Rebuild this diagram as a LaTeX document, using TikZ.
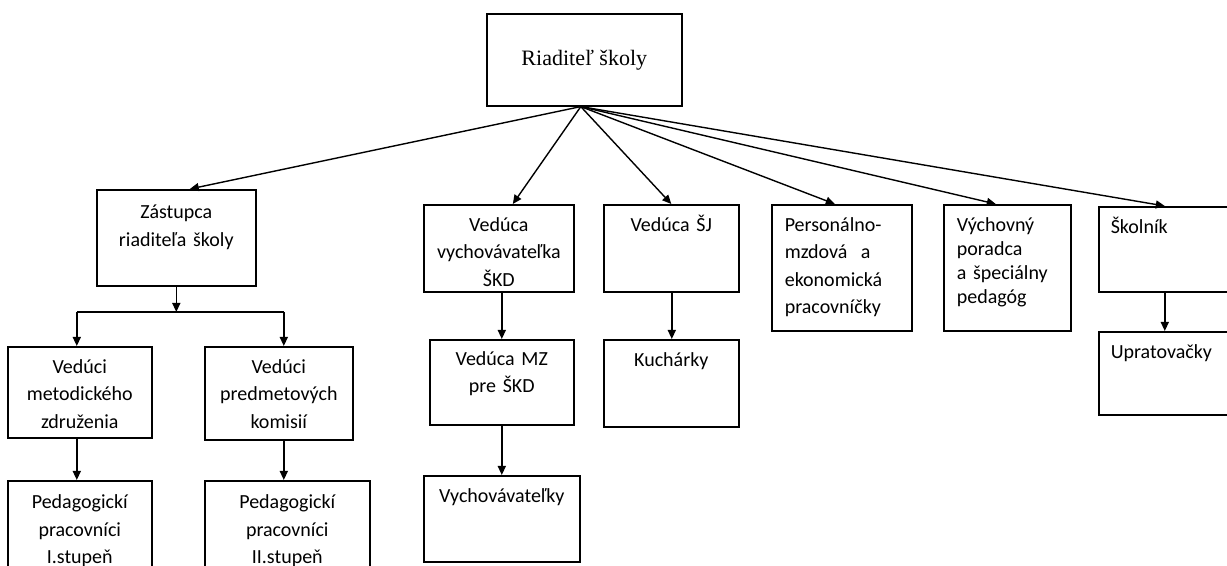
\documentclass[tikz,border=0pt]{standalone}
\usepackage{fontspec}
\usepackage{tikz}
\usetikzlibrary{arrows.meta,calc}
\newfontfamily\cardfont{Carlito}
\newfontfamily\headfont{Liberation Serif}
\tikzstyle{card} = [draw, line width=0.8pt, anchor=north west, inner sep=0pt, align=center, text height=13.25pt,
  font=\cardfont\fontsize{10pt}{13.75pt}\selectfont]
\tikzstyle{head} = [draw, line width=0.8pt, anchor=north west, inner sep=0pt, minimum width=97.5pt, minimum height=46pt,
  font=\headfont\fontsize{11pt}{13pt}\selectfont]
\tikzstyle{arrow} = [line width=0.7pt, -{Triangle[length=4.5pt,width=4pt]}]

\begin{document}
\begin{tikzpicture}[x=0.5pt,y=-0.5pt]
    \useasboundingbox (0,0) rectangle (1227,566);
    \clip (0,0) rectangle (1227,566);
    % top
    \node[head] (dir) at (486,13) {Riaditeľ školy};
    \coordinate (apex) at ([xshift=-1.75pt]dir.south);
    % deputy branch
    \node[card, text width=79.5pt, text height=14.5pt, text depth=33.5pt] (zast) at (96,189) {Zástupca\\riaditeľa školy};
    \node[card, text width=72pt, text depth=32.25pt] (met) at (7,346) {Vedúci\\metodického\\združenia};
    \node[card, text width=74pt, text depth=33.25pt] (pred) at (204,346) {Vedúci\\predmetových\\komisií};
    \node[card, text width=72pt, text height=14pt, text depth=46pt] (ped1) at (7,480) {Pedagogickí\\pracovníci\\I.stupeň};
    \node[card, text width=82.5pt, text height=14pt, text depth=46pt] (ped2) at (204,480) {Pedagogickí\\pracovníci\\II.stupeň};
    % school club
    \node[card, text width=75pt, text depth=30.25pt] (skd) at (423,204) {Vedúca\\vychovávateľka\\ŠKD};
    \node[card, text width=72pt, text height=12.75pt, text depth=29.75pt] (mz) at (429,339) {Vedúca MZ\\pre ŠKD};
    \node[card, text width=78pt, text height=13.5pt, text depth=29.5pt] (vych) at (423,475) {Vychovávateľky};
    % canteen
    \node[card, text width=67.5pt, text depth=30.25pt] (sj) at (603,204) {Vedúca ŠJ};
    \node[card, text width=67.5pt, text height=13.5pt, text depth=30pt] (kuch) at (603,339) {Kuchárky};
    % staff on the right
    \node[card, align=left, inner xsep=6.5pt, text width=57pt, text depth=49.75pt] (pers) at (771,204)
        {Personálno-\\mzdová\ \ a\\ekonomická\\pracovníčky};
    \node[card, align=left, inner xsep=6.5pt, text width=50.5pt, text depth=49.75pt,
        font=\cardfont\fontsize{10pt}{12pt}\selectfont] (vp) at (943,204)
        {Výchovný\\poradca\\a špeciálny\\pedagóg};
    \node[card, align=left, inner xsep=6pt, text width=54pt, text height=13.5pt, text depth=29pt] (skol) at (1098,206) {Školník};
    \node[card, align=left, inner xsep=6pt, text width=54pt, text height=13.5pt, text depth=28pt] (uprat) at (1098,331) {Upratovačky};

    % from the head
    \foreach \n/\s in {zast/6.75pt, skd/7pt, sj/0pt, pers/-3.5pt, vp/-5.75pt, skol/0pt}
        \draw[arrow] (apex) -- ([xshift=\s]\n.north);
    % fork under the deputy
    \coordinate (fork) at (178,312);
    \draw[arrow] (zast.south) -- (zast.south |- fork);
    \draw[line width=0.7pt] ([xshift=-1.5pt]met.north |- fork) -- ([xshift=2.5pt]pred.north |- fork);
    \draw[arrow] ([xshift=-1.5pt]met.north |- fork) -- ([xshift=-1.5pt]met.north);
    \draw[arrow] ([xshift=2.5pt]pred.north |- fork) -- ([xshift=2.5pt]pred.north);
    \draw[arrow] ([xshift=-1.5pt]met.south) -- ([xshift=-1.5pt]met.south |- ped1.north);
    \draw[arrow] ([xshift=2.5pt]pred.south) -- ([xshift=2.5pt]pred.south |- ped2.north);
    % chains below
    \draw[arrow] (mz.north |- skd.south) -- (mz.north);
    \draw[arrow] (mz.south) -- (vych.north);
    \draw[arrow] ([xshift=0.25pt]sj.south) -- ([xshift=0.25pt]kuch.north);
    \draw[arrow] (skol.south) -- (uprat.north);
\end{tikzpicture}
\end{document}
